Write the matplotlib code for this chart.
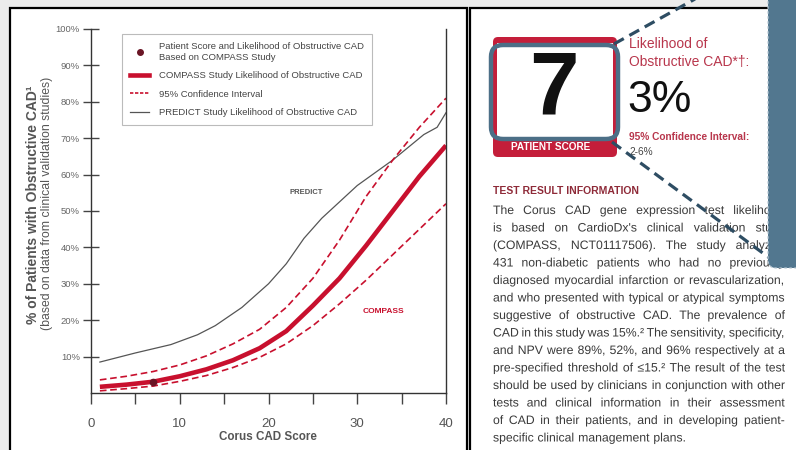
import matplotlib.pyplot as plt
import matplotlib.patheffects as pe
from matplotlib.patches import Rectangle, FancyBboxPatch
from matplotlib.lines import Line2D

plt.rcParams['font.family'] = ['Liberation Sans', 'DejaVu Sans']

# COMPASS study curve and its 95% CI
score = [1, 4, 7, 10, 13, 16, 19, 22, 25, 28, 31, 34, 37, 40]
compass = [1.7, 2.3, 3.1, 4.6, 6.5, 9.0, 12.3, 17.0, 24.0, 31.5, 40.5, 50.0, 59.5, 68.0]
compass_hi = [3.6, 4.6, 5.9, 7.7, 10.2, 13.5, 17.5, 23.5, 31.5, 42.0, 54.0, 64.0, 73.0, 81.0]
compass_lo = [0.6, 1.2, 1.9, 3.2, 4.8, 7.0, 9.8, 13.5, 18.5, 24.5, 31.0, 38.0, 45.0, 52.0]

# PREDICT study curve
predict_score = [1, 5, 9, 12, 14, 17, 20, 22, 24, 26, 28, 30, 32, 34, 36, 37.5, 39, 40]
predict = [8.5, 11.0, 13.3, 16.0, 18.5, 23.5, 30.0, 35.5, 42.5, 48.0, 52.5, 57.0,
           60.5, 64.0, 68.0, 71.0, 73.0, 77.0]

patient_score = 7
patient_pct = 3

x_ticks = [0, 10, 20, 30, 40]
x_minor = [5, 15, 25, 35]
y_ticks = [10, 20, 30, 40, 50, 60, 70, 80, 90, 100]
y_labels = [f'{v}%' for v in y_ticks]

paragraph = [
    "The Corus CAD gene expression test likelihood",
    "is based on CardioDx's clinical validation study",
    "(COMPASS, NCT01117506). The study analyzed",
    "431 non-diabetic patients who had no previously",
    "diagnosed myocardial infarction or revascularization,",
    "and who presented with typical or atypical symptoms",
    "suggestive of obstructive CAD. The prevalence of",
    "CAD in this study was 15%.\u00b2 The sensitivity, specificity,",
    "and NPV were 89%, 52%, and 96% respectively at a",
    "pre-specified threshold of \u226415.\u00b2 The result of the test",
    "should be used by clinicians in conjunction with other",
    "tests and clinical information in their assessment",
    "of CAD in their patients, and in developing patient-",
    "specific clinical management plans.",
]

RED = '#c8102e'
W, H = 796, 450
fig = plt.figure(figsize=(W / 100, H / 100), dpi=100, facecolor='#ececec')

# background panels, pixel coordinates
bg = fig.add_axes([0, 0, 1, 1], zorder=0)
bg.set_xlim(0, W)
bg.set_ylim(H, 0)
bg.axis('off')
bg.add_patch(Rectangle((10, 8), 457, 460, fc='white', ec='black', lw=1.6))
bg.add_patch(Rectangle((470, 8), 340, 460, fc='white', ec='black', lw=1.6))

# the chart
ax = fig.add_axes([91 / W, 1 - 393 / H, 355 / W, 364 / H], zorder=1)
ax.patch.set_alpha(0)
ax.plot(predict_score, predict, color='#555555', lw=0.9)
ax.plot(score, compass_hi, color=RED, lw=1.2, ls=(0, (4, 2.2)))
ax.plot(score, compass_lo, color=RED, lw=1.2, ls=(0, (4, 2.2)))
ax.plot(score, compass, color=RED, lw=3.3, solid_capstyle='butt')
ax.plot([patient_score], [patient_pct], 'o', color='#6a1525', ms=4.5, zorder=5)
ax.set_xlim(0, 40)
ax.set_ylim(0, 100)
ax.spines['top'].set_visible(False)
for s in ['left', 'right', 'bottom']:
    ax.spines[s].set_color('#333333')
    ax.spines[s].set_linewidth(1.0)
ax.set_xticks(x_ticks)
ax.set_xticks(x_minor, minor=True)
ax.set_yticks(y_ticks)
ax.set_yticklabels(y_labels)
ax.tick_params(axis='x', which='both', direction='out', length=8, width=1,
               color='#444444', labelsize=9.5, labelcolor='#555555', pad=10)
ax.tick_params(axis='y', direction='inout', length=12, width=1, color='#444444',
               labelsize=6.8, labelcolor='#666666', pad=2)
ax.text(24.3, 55.2, 'PREDICT', fontsize=5.5, fontweight='bold', color='#555555',
        ha='center', va='center')
ax.text(32.9, 22.5, 'COMPASS', fontsize=6, fontweight='bold', color=RED,
        ha='center', va='center')

handles = [
    Line2D([], [], marker='o', ls='none', color='#6a1525', ms=4),
    Line2D([], [], color=RED, lw=3.3),
    Line2D([], [], color=RED, lw=1.2, ls=(0, (2, 1))),
    Line2D([], [], color='#555555', lw=0.9),
]
labels = [
    'Patient Score and Likelihood of Obstructive CAD\nBased on COMPASS Study',
    'COMPASS Study Likelihood of Obstructive CAD',
    '95% Confidence Interval',
    'PREDICT Study Likelihood of Obstructive CAD',
]
leg = ax.legend(handles, labels, loc='upper left', bbox_to_anchor=(117 / W, 1 - 29 / H),
                bbox_transform=fig.transFigure, fontsize=6.8, fancybox=False,
                edgecolor='#bbbbbb', framealpha=1, handlelength=2.0, borderpad=0.9,
                labelspacing=1.0, handletextpad=1.0)
for t in leg.get_texts():
    t.set_color('#444444')
leg.get_frame().set_linewidth(0.8)

bg.text(33, 205, '% of Patients with Obstructive CAD\u00b9', rotation=90, fontsize=10,
        fontweight='bold', color='#555555', ha='center', va='center')
bg.text(47, 203, '(based on data from clinical validation studies)', rotation=90,
        fontsize=8.8, color='#555555', ha='center', va='center')
bg.text(268, 437, 'Corus CAD Score', fontsize=8.4, fontweight='bold', color='#555555',
        ha='center', va='center')

# right panel content
fg = fig.add_axes([0, 0, 1, 1], zorder=5)
fg.set_xlim(0, W)
fg.set_ylim(H, 0)
fg.axis('off')

fg.add_patch(FancyBboxPatch((493, 37), 124, 120, boxstyle='round,pad=0,rounding_size=5',
                            fc='#c41e3a', ec='none'))
fg.add_patch(Rectangle((497, 43), 116, 94, fc='white', ec='none'))
fg.add_patch(FancyBboxPatch((491, 45), 127, 94, boxstyle='round,pad=0,rounding_size=12',
                            fc='none', ec='#4c6f87', lw=3.2, zorder=4))
fg.text(554, 90, '7', fontsize=64, fontweight='bold', color='#111111',
        ha='center', va='center')
fg.text(551, 147, 'PATIENT SCORE', fontsize=7.2, fontweight='bold', color='white',
        ha='center', va='center')

fg.text(629, 44, 'Likelihood of', fontsize=10, color='#b8364c', va='center')
fg.text(629, 62, 'Obstructive CAD*\u2020:', fontsize=10, color='#b8364c', va='center')
fg.text(627, 101, '3%', fontsize=32, color='#111111', va='center')
fg.text(629, 137, '95% Confidence Interval:', fontsize=7.3, fontweight='bold',
        color='#b8364c', va='center')
fg.text(629, 152, '2-6%', fontsize=7.3, color='#444444', va='center')
fg.text(493, 191, 'TEST RESULT INFORMATION', fontsize=7.5, fontweight='bold',
        color='#8e2a38', va='center')

# justified paragraph, one text per word on a shared baseline
# (drawn through a path effect so words are not snapped to separate pixel rows)
renderer = fig.canvas.get_renderer()
left, right = 493, 785
for i, line in enumerate(paragraph):
    y = 214 + 17.5 * i
    words = line.split()
    size = 8.8
    texts = [fg.text(0, y, w, fontsize=size, color='#3a3a3a', va='baseline',
                     path_effects=[pe.Normal()]) for w in words]
    widths = [t.get_window_extent(renderer).width for t in texts]
    last = i == len(paragraph) - 1
    gap = 3.2 if last else (right - left - sum(widths)) / (len(words) - 1)
    if gap < 2.2:
        size = size * (right - left - 2.2 * (len(words) - 1)) / sum(widths)
        for t in texts:
            t.set_fontsize(size)
        widths = [t.get_window_extent(renderer).width for t in texts]
        gap = (right - left - sum(widths)) / (len(words) - 1)
    x = left
    for t, w in zip(texts, widths):
        t.set_x(x)
        x += w + gap

# callout: dashed lines and blue panel
dash = dict(color='#2e4d63', lw=2.3, ls=(0, (3.5, 2)), zorder=6)
fg.plot([612, 775], [142, 262], **dash)
fg.plot([614, 722], [44, -16], **dash)
fg.add_patch(FancyBboxPatch((768, -30), 50, 298, boxstyle='round,pad=0,rounding_size=8',
                            fc='#52778f', ec='#b7c7d3', lw=0.9, ls=(0, (2, 2)), zorder=7))

fig.savefig('out.png', dpi=100, facecolor=fig.get_facecolor())
